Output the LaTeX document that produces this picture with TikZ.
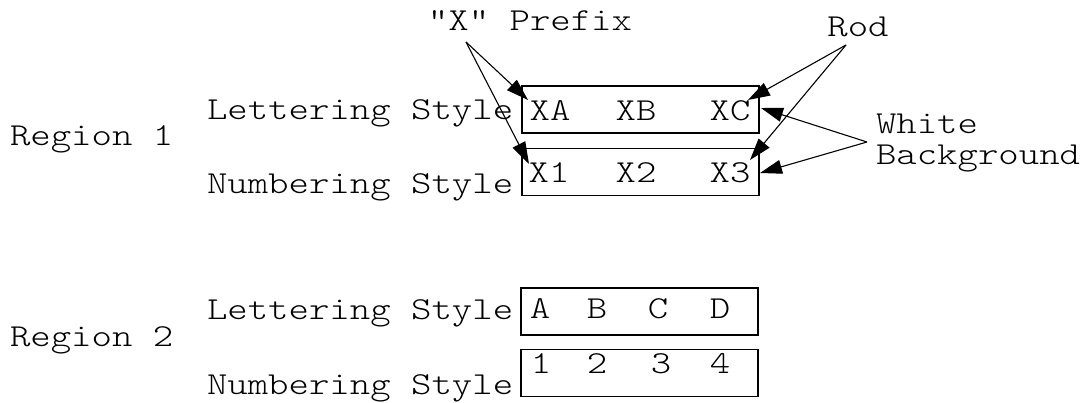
\documentclass[tikz,border=0pt]{standalone}
\usepackage{fontspec}
\newfontfamily\lmlt{lmmonolt10-regular.otf}
\usetikzlibrary{arrows.meta}
\newcommand{\hstr}[1]{\scalebox{1.215}[1]{#1}}
\tikzset{
  txt/.style={font=\lmlt\fontsize{32}{36}\selectfont, inner sep=0pt, outer sep=0pt},
  lft/.style={txt, anchor=base west},
  mid/.style={txt, anchor=base},
  boxst/.style={draw, line width=1.3pt, minimum width=237pt, minimum height=47pt, inner sep=0pt, outer sep=0pt},
  arr/.style={line width=1.1pt, -{Triangle[length=22pt,width=14pt]}},
}
\begin{document}
\begin{tikzpicture}[x=1pt,y=-1pt]
\useasboundingbox (0,0) rectangle (1088,402);

% ---------- Region 1 ----------
\node[lft] (reg1) at (10,145) {\hstr{Region 1}};
\node[lft] (let1) at (207,119) {\hstr{Lettering Style}};
\node[lft] (num1) at (207,193) {\hstr{Numbering Style}};

\node[boxst] (box1a) at (640.5,109.5) {};
\node[boxst] (box1b) at (640.5,172) {};

\node[mid] (xa) at (550,120) {\hstr{XA}};
\node[mid] (xb) at (636,120) {\hstr{XB}};
\node[mid] (xc) at (730,120) {\hstr{XC}};
\node[mid] (x1) at (549,182) {\hstr{X1}};
\node[mid] (x2) at (636,182) {\hstr{X2}};
\node[mid] (x3) at (730,182) {\hstr{X3}};

% callout labels
\node[mid] (prefix) at (530,30) {\hstr{"X" Prefix}};
\node[mid] (rod) at (858,36) {\hstr{Rod}};
\node[lft] (white) at (876,133) {\hstr{White}};
\node[lft] (backg) at (876,164) {\hstr{Background}};

\coordinate (pfxo) at (466,42);
\coordinate (rodo) at (846,45);
\coordinate (wbo) at (867,142);

\coordinate (pfxt1) at (528,100);
\coordinate (pfxt2) at (529,164);
\coordinate (rodt1) at (748,100);
\coordinate (rodt2) at (750,160);
\coordinate (wbt1) at (761,108);
\coordinate (wbt2) at (760,173);

\draw[arr] (pfxo) -- (pfxt1);
\draw[arr] (pfxo) -- (pfxt2);
\draw[arr] (rodo) -- (rodt1);
\draw[arr] (rodo) -- (rodt2);
\draw[arr] (wbo) -- (wbt1);
\draw[arr] (wbo) -- (wbt2);

% ---------- Region 2 ----------
\node[lft] (reg2) at (10,346) {\hstr{Region 2}};
\node[lft] (let2) at (207,319) {\hstr{Lettering Style}};
\node[lft] (num2) at (207,394) {\hstr{Numbering Style}};

\node[boxst] (box2a) at (639.5,311.5) {};
\node[boxst] (box2b) at (639.5,373) {};

\node[mid] (la) at (540,318) {\hstr{A}};
\node[mid] (lb) at (597,318) {\hstr{B}};
\node[mid] (lc) at (658,318) {\hstr{C}};
\node[mid] (ld) at (720,318) {\hstr{D}};
\node[mid] (n1) at (541,373) {\hstr{1}};
\node[mid] (n2) at (597,373) {\hstr{2}};
\node[mid] (n3) at (661,373) {\hstr{3}};
\node[mid] (n4) at (720,373) {\hstr{4}};
\end{tikzpicture}
\end{document}
